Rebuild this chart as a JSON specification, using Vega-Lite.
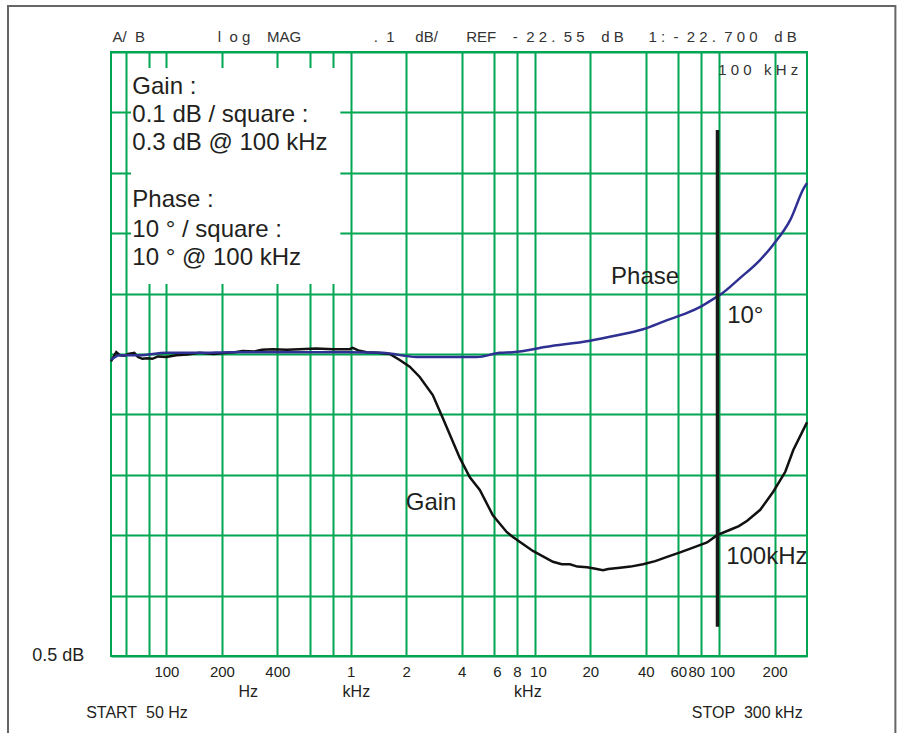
{
  "$schema": "https://vega.github.io/schema/vega-lite/v6.json",
  "width": 696,
  "height": 604,
  "autosize": {"type": "none"},
  "padding": {"left": 111, "top": 52, "right": 94, "bottom": 77},
  "background": "white",
  "config": {
    "view": {"stroke": "#00a651", "strokeWidth": 2},
    "font": "Liberation Sans",
    "text": {"font": "Liberation Sans", "color": "#231f20"}
  },
  "datasets": {
    "gain": [
      {"f": 50, "div": 4.88}, {"f": 53.4, "div": 5.03}, {"f": 56, "div": 4.98}, {"f": 59.1, "div": 4.97},
      {"f": 62, "div": 5.0}, {"f": 66.9, "div": 5.02}, {"f": 70, "div": 4.95}, {"f": 74, "div": 4.92},
      {"f": 79, "div": 4.93}, {"f": 83.8, "div": 4.92}, {"f": 90, "div": 4.96}, {"f": 99.9, "div": 4.95},
      {"f": 113, "div": 4.98}, {"f": 130, "div": 4.99}, {"f": 151, "div": 5.02}, {"f": 180, "div": 5.0},
      {"f": 212, "div": 5.02}, {"f": 235, "div": 5.03}, {"f": 259, "div": 5.05}, {"f": 300, "div": 5.04},
      {"f": 330, "div": 5.07}, {"f": 377, "div": 5.08}, {"f": 450, "div": 5.07}, {"f": 528, "div": 5.08},
      {"f": 650, "div": 5.09}, {"f": 800, "div": 5.08}, {"f": 987, "div": 5.08}, {"f": 1025, "div": 5.1},
      {"f": 1100, "div": 5.06}, {"f": 1221, "div": 5.03}, {"f": 1400, "div": 5.02}, {"f": 1629, "div": 5.0},
      {"f": 1846, "div": 4.9}, {"f": 2092, "div": 4.79}, {"f": 2371, "div": 4.62}, {"f": 2790, "div": 4.32},
      {"f": 3162, "div": 3.94}, {"f": 3912, "div": 3.28}, {"f": 4435, "div": 2.96}, {"f": 5024, "div": 2.75},
      {"f": 5912, "div": 2.33}, {"f": 7045, "div": 2.05}, {"f": 7595, "div": 1.97}, {"f": 9754, "div": 1.74},
      {"f": 12531, "div": 1.56}, {"f": 14000, "div": 1.52}, {"f": 15501, "div": 1.52}, {"f": 17000, "div": 1.48},
      {"f": 19179, "div": 1.47}, {"f": 21000, "div": 1.45}, {"f": 23430, "div": 1.42}, {"f": 25000, "div": 1.44},
      {"f": 28983, "div": 1.46}, {"f": 33000, "div": 1.48}, {"f": 38650, "div": 1.52}, {"f": 45000, "div": 1.57},
      {"f": 52200, "div": 1.64}, {"f": 62000, "div": 1.72}, {"f": 75970, "div": 1.82}, {"f": 86000, "div": 1.88},
      {"f": 97590, "div": 2.0}, {"f": 114800, "div": 2.09}, {"f": 128000, "div": 2.15}, {"f": 142100, "div": 2.24},
      {"f": 167200, "div": 2.42}, {"f": 196700, "div": 2.72}, {"f": 228700, "div": 3.05}, {"f": 252800, "div": 3.41},
      {"f": 282800, "div": 3.71}, {"f": 300000, "div": 3.87}
    ],
    "phase": [
      {"f": 50, "div": 4.9}, {"f": 55.5, "div": 4.98}, {"f": 71.3, "div": 4.98}, {"f": 99.9, "div": 5.02},
      {"f": 151, "div": 5.02}, {"f": 228, "div": 5.03}, {"f": 349, "div": 5.03}, {"f": 987, "div": 5.03},
      {"f": 1492, "div": 5.02}, {"f": 2284, "div": 4.95}, {"f": 4839, "div": 4.95}, {"f": 6453, "div": 5.02},
      {"f": 7595, "div": 5.03}, {"f": 11625, "div": 5.12}, {"f": 19905, "div": 5.22}, {"f": 28000, "div": 5.31},
      {"f": 38650, "div": 5.41}, {"f": 52200, "div": 5.56}, {"f": 67030, "div": 5.68}, {"f": 80000, "div": 5.79},
      {"f": 95170, "div": 5.93}, {"f": 101300, "div": 5.98}, {"f": 130200, "div": 6.26}, {"f": 167200, "div": 6.56},
      {"f": 196700, "div": 6.81}, {"f": 243400, "div": 7.22}, {"f": 288700, "div": 7.75}, {"f": 300000, "div": 7.83}
    ],
    "marker": [{"f": 98000, "div": 0.485, "div2": 8.71}],
    "box": [{"f": 64.2, "f2": 878.8, "div": 6.159, "div2": 9.735}],
    "frame": [{"f": 13.8, "f2": 905600, "div": 10.762, "div2": -3}],
    "boxtext": [
      {"f": 65.3, "div": 9.425, "label": "Gain :"},
      {"f": 65.3, "div": 8.957, "label": "0.1 dB / square :"},
      {"f": 65.3, "div": 8.493, "label": "0.3 dB @ 100 kHz"},
      {"f": 65.3, "div": 7.55, "label": "Phase :"},
      {"f": 65.3, "div": 7.053, "label": "10 ° / square :"},
      {"f": 65.3, "div": 6.589, "label": "10 ° @ 100 kHz"}
    ],
    "curvetext": [
      {"f": 25900, "div": 6.275, "label": "Phase"},
      {"f": 110600, "div": 5.629, "label": "10°"},
      {"f": 1990, "div": 2.533, "label": "Gain"},
      {"f": 109200, "div": 1.639, "label": "100kHz"}
    ],
    "header": [
      {"f": 62.5, "div": 10.248, "label": "A/\u00a0\u00a0B"},
      {"f": 320, "div": 10.248, "label": "l\u00a0\u00a0o g\u00a0\u00a0\u00a0\u00a0MAG"},
      {"f": 1990, "div": 10.248, "label": ".\u00a0\u00a01\u00a0\u00a0\u00a0\u00a0\u00a0dB/"},
      {"f": 11340, "div": 10.248, "label": "REF\u00a0\u00a0\u00a0\u00a0-\u00a0\u00a02 2 .\u00a0\u00a05 5\u00a0\u00a0\u00a0\u00a0d B"},
      {"f": 104500, "div": 10.248, "label": "1 :\u00a0\u00a0-\u00a0\u00a02 2 .\u00a0\u00a07 0 0\u00a0\u00a0\u00a0\u00a0d B"},
      {"f": 163000, "div": 9.702, "label": "1 0 0\u00a0\u00a0\u00a0k H z"}
    ],
    "footer": [
      {"f": 277.8, "div": -0.596, "label": "Hz"},
      {"f": 1074, "div": -0.596, "label": "kHz"},
      {"f": 9163, "div": -0.596, "label": "kHz"},
      {"f": 69.2, "div": -0.939, "label": "START\u00a0\u00a050 Hz"},
      {"f": 142100, "div": -0.939, "label": "STOP\u00a0\u00a0300 kHz"}
    ],
    "scaletext": [{"f": 35.8, "div": 0, "label": "0.5 dB"}]
  },
  "encoding": {
    "x": {
      "field": "f",
      "type": "quantitative",
      "scale": {"type": "log", "domain": [50, 300000], "nice": false},
      "axis": {
        "values": [60, 80, 100, 200, 400, 600, 800, 1000, 2000, 4000, 6000, 8000, 10000, 20000, 40000, 60000, 80000, 100000, 200000],
        "labelExpr": "indexof([60, 80, 600, 800], datum.value) >= 0 ? '' : (datum.value < 1000 ? format(datum.value, 'd') : format(datum.value / 1000, 'd'))",
        "title": null,
        "grid": true,
        "gridColor": "#00a651",
        "gridWidth": 2,
        "gridOpacity": 1,
        "ticks": false,
        "domain": false,
        "labelFont": "Liberation Sans",
        "labelFontSize": 15,
        "labelColor": "#231f20",
        "labelPadding": 8,
        "labelOverlap": false,
        "labelFlush": false,
        "labelOffset": {
          "condition": [
            {"test": "datum.value == 80000", "value": -5},
            {"test": "datum.value == 100000 || datum.value == 6000 || datum.value == 10000", "value": 3}
          ],
          "value": 0
        }
      }
    },
    "y": {
      "field": "div",
      "type": "quantitative",
      "scale": {"domain": [0, 10], "nice": false},
      "axis": {
        "values": [0, 1, 2, 3, 4, 5, 6, 7, 8, 9, 10],
        "labels": false,
        "title": null,
        "grid": true,
        "gridColor": "#00a651",
        "gridWidth": 2,
        "gridOpacity": 1,
        "ticks": false,
        "domain": false
      }
    }
  },
  "layer": [
    {
      "data": {"name": "frame"},
      "mark": {"type": "rect", "fill": null, "stroke": "#666666", "strokeWidth": 2, "clip": false},
      "encoding": {"x2": {"field": "f2"}, "y2": {"field": "div2"}}
    },
    {
      "data": {"name": "box"},
      "mark": {"type": "rect", "fill": "white", "stroke": null},
      "encoding": {"x2": {"field": "f2"}, "y2": {"field": "div2"}}
    },
    {
      "data": {"name": "gain"},
      "mark": {"type": "line", "color": "#111111", "strokeWidth": 2.5},
      "encoding": {"order": {"field": "f", "type": "quantitative"}}
    },
    {
      "data": {"name": "phase"},
      "mark": {"type": "line", "color": "#2e3192", "strokeWidth": 2.5, "interpolate": "monotone"},
      "encoding": {"order": {"field": "f", "type": "quantitative"}}
    },
    {
      "data": {"name": "marker"},
      "mark": {"type": "rule", "color": "#1a1a1a", "strokeWidth": 3.5},
      "encoding": {"y2": {"field": "div2"}}
    },
    {
      "data": {"name": "boxtext"},
      "mark": {"type": "text", "align": "left", "baseline": "middle", "fontSize": 24, "font": "Liberation Sans", "color": "#231f20"},
      "encoding": {"text": {"field": "label"}}
    },
    {
      "data": {"name": "curvetext"},
      "mark": {"type": "text", "align": "left", "baseline": "middle", "fontSize": 24, "font": "Liberation Sans", "color": "#231f20"},
      "encoding": {"text": {"field": "label"}}
    },
    {
      "data": {"name": "header"},
      "mark": {"type": "text", "align": "center", "baseline": "middle", "fontSize": 15, "font": "Liberation Sans", "color": "#333333", "clip": false},
      "encoding": {"text": {"field": "label"}}
    },
    {
      "data": {"name": "footer"},
      "mark": {"type": "text", "align": "center", "baseline": "middle", "fontSize": 16, "font": "Liberation Sans", "color": "#231f20", "clip": false},
      "encoding": {"text": {"field": "label"}}
    },
    {
      "data": {"name": "scaletext"},
      "mark": {"type": "text", "align": "right", "baseline": "middle", "fontSize": 18, "font": "Liberation Sans", "color": "#231f20", "clip": false},
      "encoding": {"text": {"field": "label"}}
    }
  ]
}
